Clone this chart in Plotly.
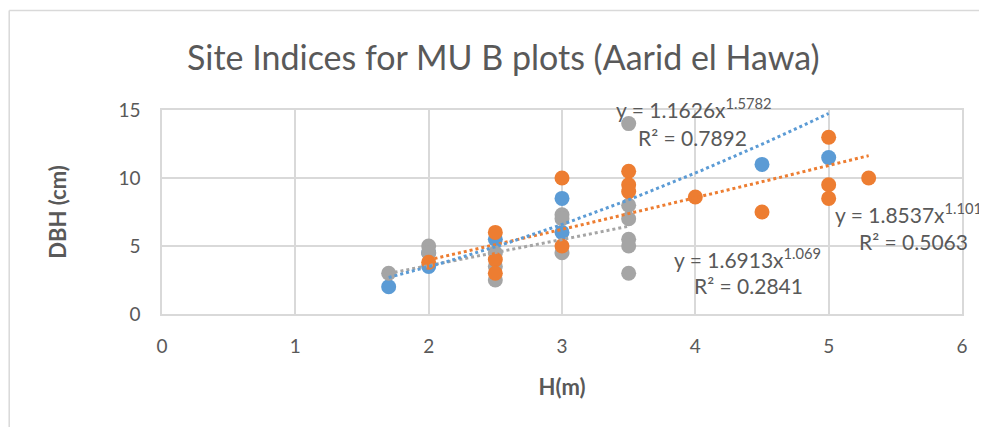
import numpy as np
import plotly.graph_objects as go

# Series 1 (blue)
blue_h = [1.7, 2.0, 2.0, 2.5, 3.0, 3.0, 4.5, 5.0]
blue_dbh = [2.0, 3.5, 4.5, 5.5, 8.5, 6.0, 11.0, 11.5]

# Series 2 (orange)
orange_h = [2.0, 2.5, 2.5, 2.5, 3.0, 3.0, 3.5, 3.5, 3.5, 4.0, 4.5, 5.0, 5.0, 5.0, 5.3]
orange_dbh = [3.8, 6.0, 4.0, 3.0, 10.0, 5.0, 10.5, 9.5, 9.0, 8.6, 7.5, 13.0, 9.5, 8.5, 10.0]

# Series 3 (gray)
gray_h = [1.7, 2.0, 2.0, 2.5, 2.5, 2.5, 3.0, 3.0, 3.0, 3.5, 3.5, 3.5, 3.5, 3.5, 3.5]
gray_dbh = [3.0, 5.0, 4.5, 4.5, 3.5, 2.5, 7.3, 7.0, 4.5, 14.0, 8.0, 7.0, 5.5, 5.0, 3.0]

# Power trendline coefficients as displayed (y = a * x^b)
trend_a = {"blue": 1.1626, "orange": 1.8537, "gray": 1.6913}
trend_b = {"blue": 1.5782, "orange": 1.1018, "gray": 1.069}
trend_r2 = {"blue": "0.7892", "orange": "0.5063", "gray": "0.2841"}
trend_b_label = {"blue": "1.5782", "orange": "1.1018", "gray": "1.069"}

colors = {"blue": "#5B9BD5", "orange": "#ED7D31", "gray": "#A5A5A5"}
series = {
    "blue": (blue_h, blue_dbh),
    "orange": (orange_h, orange_dbh),
    "gray": (gray_h, gray_dbh),
}

FONT = "Lato, 'Open Sans', sans-serif"
TXT = "#595959"

fig = go.Figure()

for key in ["blue", "gray", "orange"]:
    h, d = series[key]
    fig.add_trace(go.Scatter(
        x=h, y=d, mode="markers",
        marker=dict(color=colors[key], size=15, line=dict(width=0)),
        showlegend=False, hoverinfo="x+y",
    ))

for key in ["gray", "orange", "blue"]:
    h, _ = series[key]
    xs = np.linspace(min(h), max(h), 60)
    ys = trend_a[key] * xs ** trend_b[key]
    fig.add_trace(go.Scatter(
        x=xs, y=ys, mode="lines",
        line=dict(color=colors[key], width=3, dash="dot"),
        showlegend=False, hoverinfo="skip",
    ))

ann_font = dict(family=FONT, size=21, color=TXT)
# label anchor positions (paper fractions of the plot area)
ann_pos = {
    "blue": [(0.565, 1.01), (0.5925, 0.863)],
    "gray": [(0.6375, 0.275), (0.6625, 0.142)],
    "orange": [(0.839, 0.495), (0.869, 0.353)],
}
for key, ((ex, ey), (rx, ry)) in ann_pos.items():
    fig.add_annotation(x=ex, y=ey, xref="paper", yref="paper", xanchor="left", yanchor="middle",
                       text=f"y = {trend_a[key]:.4f}x<sup>{trend_b_label[key]}</sup>",
                       showarrow=False, font=ann_font)
    fig.add_annotation(x=rx, y=ry, xref="paper", yref="paper", xanchor="left", yanchor="middle",
                       text=f"R² = {trend_r2[key]}", showarrow=False, font=ann_font)

# chart-area border (partly visible)
fig.add_shape(type="line", xref="paper", yref="paper", x0=-0.191, x1=1.5, y0=1.488, y1=1.488,
              line=dict(color="#D9D9D9", width=1.5))
fig.add_shape(type="line", xref="paper", yref="paper", x0=-0.191, x1=-0.191, y0=1.488, y1=-1.0,
              line=dict(color="#D9D9D9", width=1.5))

fig.update_layout(
    width=979, height=419,
    margin=dict(l=154, r=25, t=102, b=113),
    paper_bgcolor="white", plot_bgcolor="white",
    title=dict(text="Site Indices for MU B plots (Aarid el Hawa)", x=0.506, xref="container",
               xanchor="center", y=0.881, yanchor="middle", yref="container",
               font=dict(family=FONT, size=34, color=TXT)),
    font=dict(family=FONT, color=TXT),
)
fig.update_xaxes(range=[0, 6], dtick=1, showgrid=True, gridcolor="#D9D9D9", gridwidth=1.5,
                 zeroline=False, showline=True, linecolor="#D9D9D9", linewidth=1.5, mirror=True,
                 ticks="", ticklabelstandoff=14, tickfont=dict(family=FONT, size=19, color=TXT),
                 title=dict(text="<b>H(m)</b>", font=dict(family=FONT, size=22, color=TXT), standoff=24))
fig.update_yaxes(range=[0, 15], dtick=5, showgrid=True, gridcolor="#D9D9D9", gridwidth=1.5,
                 zeroline=False, showline=True, linecolor="#D9D9D9", linewidth=1.5, mirror=True,
                 ticks="", ticklabelstandoff=16, tickfont=dict(family=FONT, size=19, color=TXT),
                 title=dict(text="<b>DBH (cm)</b>", font=dict(family=FONT, size=22, color=TXT), standoff=46))

fig.write_html("out.html")
